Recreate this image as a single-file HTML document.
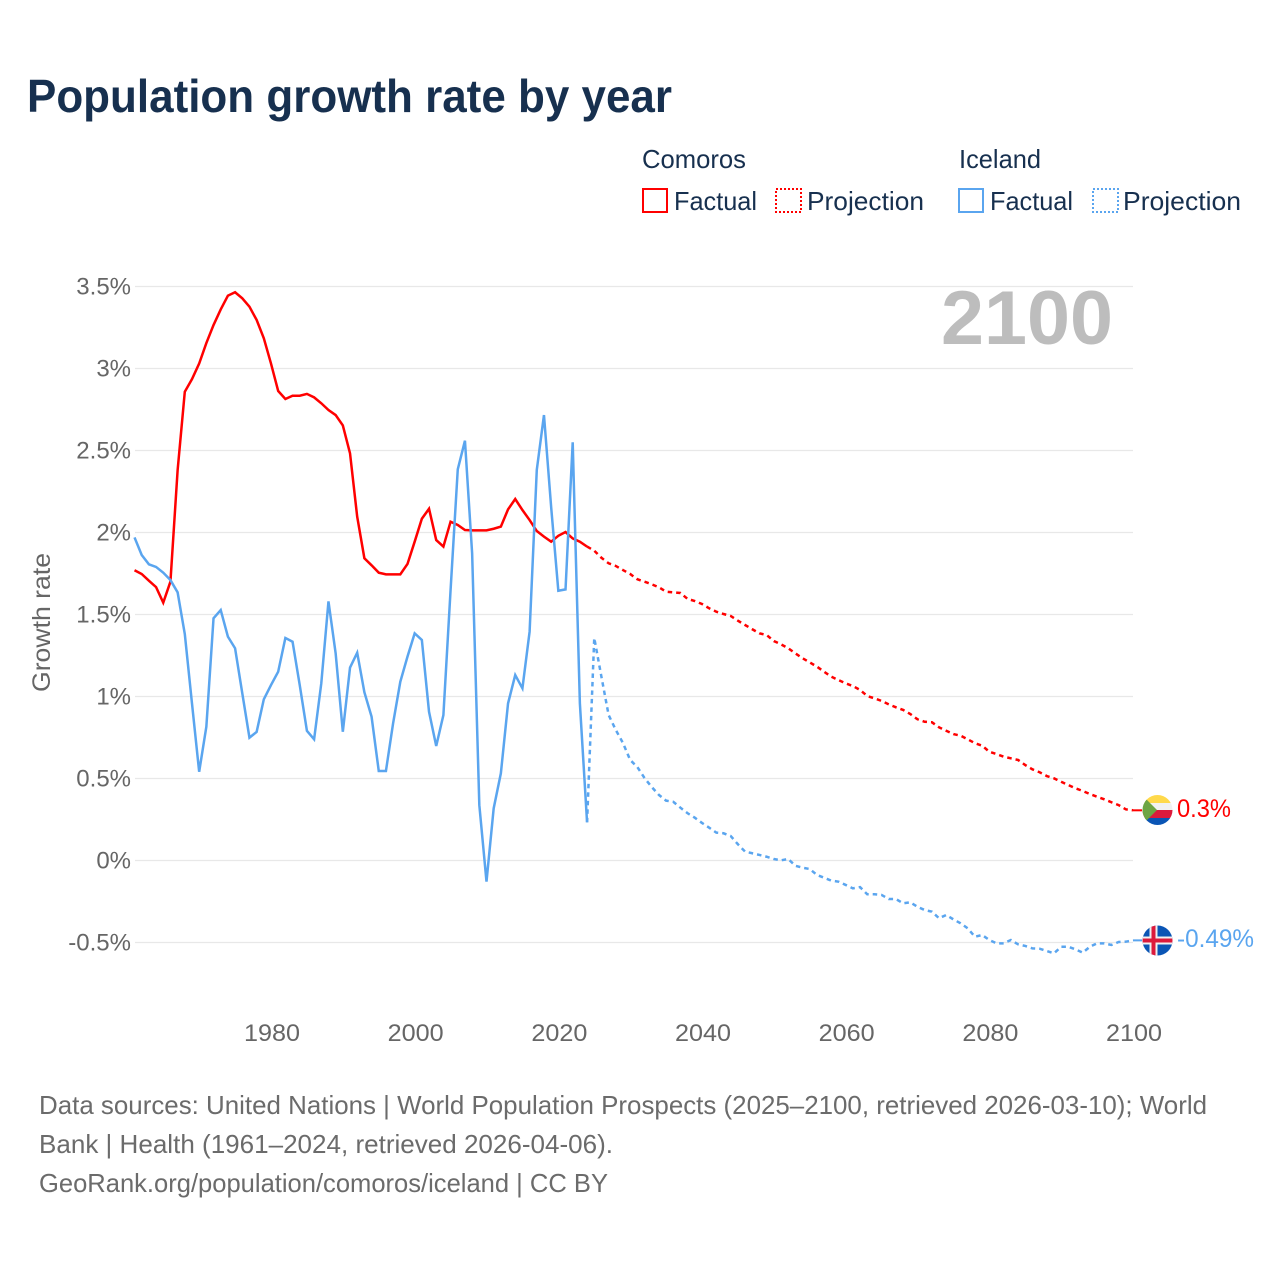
<!DOCTYPE html>
<html lang="en">
<head>
<meta charset="utf-8">
<title>Population growth rate by year</title>
<style>
  html, body { margin: 0; padding: 0; background: #fff; }
  svg { display: block; font-family: "Liberation Sans", sans-serif; }
</style>
</head>
<body>
<svg id="chart" xmlns="http://www.w3.org/2000/svg" width="1280" height="1280" viewBox="0 0 1280 1280">
  <rect x="0" y="0" width="1280" height="1280" fill="#ffffff"/>
  <text x="27" y="112" font-size="46" font-weight="700" fill="#17304f" textLength="645" lengthAdjust="spacingAndGlyphs">Population growth rate by year</text>

  <g font-size="26" fill="#17304f">
    <text x="642" y="168" textLength="104" lengthAdjust="spacingAndGlyphs">Comoros</text>
    <text x="959" y="168" textLength="82" lengthAdjust="spacingAndGlyphs">Iceland</text>
    <g>
      <rect x="643" y="189" width="24" height="23" fill="none" stroke="#ff0000" stroke-width="2"/>
      <text x="674" y="210" textLength="83" lengthAdjust="spacingAndGlyphs">Factual</text>
    </g>
    <g>
      <rect x="776" y="189" width="25" height="23" fill="none" stroke="#ff0000" stroke-width="2" stroke-dasharray="2 2"/>
      <text x="807" y="210" textLength="117" lengthAdjust="spacingAndGlyphs">Projection</text>
    </g>
    <g>
      <rect x="959" y="189" width="24" height="23" fill="none" stroke="#5aa5ef" stroke-width="2"/>
      <text x="990" y="210" textLength="83" lengthAdjust="spacingAndGlyphs">Factual</text>
    </g>
    <g>
      <rect x="1093" y="189" width="25" height="23" fill="none" stroke="#5aa5ef" stroke-width="2" stroke-dasharray="2 2"/>
      <text x="1123" y="210" textLength="118" lengthAdjust="spacingAndGlyphs">Projection</text>
    </g>
  </g>

  <g id="grid"></g>
  <g id="yTicks" font-size="24" fill="#666666" text-anchor="end"></g>
  <g id="xTicks" font-size="24" fill="#666666" text-anchor="middle"></g>
  <text transform="translate(50,692) rotate(-90)" font-size="25" fill="#666666" textLength="139" lengthAdjust="spacingAndGlyphs">Growth rate</text>
  <text x="941" y="344" font-size="76" font-weight="700" fill="#bdbdbd" textLength="172" lengthAdjust="spacingAndGlyphs">2100</text>
  <g id="series"></g>

  <g id="flagComoros">
    <clipPath id="clipComoros"><circle cx="1157.5" cy="810" r="15"/></clipPath>
    <g clip-path="url(#clipComoros)">
      <rect x="1142" y="795" width="31" height="8" fill="#ffd94a"/>
      <rect x="1142" y="803" width="31" height="7.5" fill="#f1f1f1"/>
      <rect x="1142" y="810" width="31" height="8" fill="#dc1a3c"/>
      <rect x="1142" y="818" width="31" height="8" fill="#0a55b5"/>
      <polygon points="1142,795 1157,810 1142,825" fill="#6da544"/>
      <path d="M1151 804 a6 6 0 1 0 0 12 a5 5 0 1 1 0 -12z" fill="#f0f0f0"/>
    </g>
  </g>
  <g id="flagIceland">
    <clipPath id="clipIceland"><circle cx="1157.5" cy="940.5" r="15"/></clipPath>
    <g clip-path="url(#clipIceland)">
      <rect x="1142" y="925" width="31" height="31" fill="#0a55b5"/>
      <rect x="1149.5" y="925" width="8" height="31" fill="#f0f0f0"/>
      <rect x="1142" y="936.5" width="31" height="8" fill="#f0f0f0"/>
      <rect x="1151.5" y="925" width="4" height="31" fill="#dc1a3c"/>
      <rect x="1142" y="938.5" width="31" height="4" fill="#dc1a3c"/>
    </g>
  </g>
  <text x="1177" y="817" font-size="25" fill="#ff0000" textLength="54" lengthAdjust="spacingAndGlyphs">0.3%</text>
  <text x="1177" y="947" font-size="25" fill="#5aa5ef" textLength="77" lengthAdjust="spacingAndGlyphs">-0.49%</text>

  <g font-size="26" fill="#6b6b6b">
    <text x="39" y="1114" textLength="1168" lengthAdjust="spacingAndGlyphs">Data sources: United Nations | World Population Prospects (2025–2100, retrieved 2026-03-10); World</text>
    <text x="39" y="1153" textLength="574" lengthAdjust="spacingAndGlyphs">Bank | Health (1961–2024, retrieved 2026-04-06).</text>
    <text x="39" y="1192" textLength="569" lengthAdjust="spacingAndGlyphs">GeoRank.org/population/comoros/iceland | CC BY</text>
  </g>
</svg>
<script>
const factualStartYear = 1961;
const projectionStartYear = 2024;
const xTickYears = [1980, 2000, 2020, 2040, 2060, 2080, 2100];
const yTickValues = [-0.5, 0, 0.5, 1, 1.5, 2, 2.5, 3, 3.5];
const yTickLabels = ["-0.5%", "0%", "0.5%", "1%", "1.5%", "2%", "2.5%", "3%", "3.5%"];

const comorosFactual = [1.77,1.747,1.706,1.667,1.572,1.70,2.38,2.858,2.935,3.03,3.155,3.265,3.36,3.444,3.465,3.428,3.377,3.296,3.184,3.03,2.863,2.814,2.834,2.834,2.845,2.824,2.788,2.747,2.716,2.653,2.483,2.096,1.843,1.80,1.755,1.745,1.745,1.745,1.808,1.944,2.084,2.145,1.954,1.914,2.066,2.046,2.015,2.013,2.013,2.013,2.023,2.036,2.141,2.204,2.137,2.076,2.009,1.975,1.944,1.98,2.003,1.964,1.944,1.914];
const comorosProjection = [1.914,1.889,1.846,1.812,1.796,1.771,1.747,1.715,1.70,1.684,1.666,1.639,1.635,1.631,1.595,1.582,1.564,1.538,1.517,1.503,1.491,1.462,1.436,1.41,1.385,1.375,1.338,1.318,1.294,1.263,1.233,1.208,1.182,1.151,1.121,1.10,1.08,1.064,1.04,1.003,0.989,0.973,0.952,0.934,0.918,0.893,0.861,0.846,0.843,0.812,0.791,0.771,0.761,0.739,0.715,0.70,0.663,0.649,0.633,0.623,0.613,0.582,0.556,0.538,0.515,0.501,0.48,0.46,0.44,0.424,0.405,0.389,0.373,0.355,0.338,0.312,0.306];
const icelandFactual = [1.97,1.863,1.806,1.79,1.755,1.71,1.635,1.381,0.958,0.541,0.816,1.477,1.527,1.365,1.294,1.02,0.749,0.784,0.983,1.07,1.151,1.357,1.334,1.07,0.791,0.739,1.08,1.58,1.263,0.785,1.176,1.267,1.026,0.877,0.546,0.546,0.837,1.09,1.243,1.385,1.345,0.907,0.698,0.887,1.65,2.385,2.56,1.873,0.338,-0.129,0.318,0.532,0.958,1.131,1.05,1.395,2.381,2.716,2.155,1.645,1.653,2.55,0.958,0.233];
const icelandProjection = [0.233,1.357,1.12,0.887,0.796,0.716,0.613,0.57,0.503,0.448,0.40,0.365,0.358,0.322,0.288,0.261,0.229,0.20,0.17,0.166,0.149,0.099,0.054,0.044,0.034,0.023,0.009,0.001,0.009,-0.032,-0.044,-0.052,-0.088,-0.105,-0.123,-0.129,-0.149,-0.17,-0.162,-0.206,-0.206,-0.21,-0.235,-0.235,-0.261,-0.255,-0.282,-0.302,-0.312,-0.352,-0.332,-0.359,-0.383,-0.414,-0.465,-0.454,-0.485,-0.505,-0.505,-0.485,-0.511,-0.521,-0.536,-0.538,-0.552,-0.566,-0.526,-0.526,-0.542,-0.562,-0.526,-0.505,-0.505,-0.515,-0.497,-0.495,-0.487];

const SVG_NS = "http://www.w3.org/2000/svg";
const X_PER_YEAR = (1134 - 272) / (2100 - 1980);
const Y_PER_UNIT = (860.5 - 286.5) / 3.5;
function xScale(year) { return 272 + (year - 1980) * X_PER_YEAR; }
function markX(year) { return xScale(year) - 1; }
function yScale(value) { return 860.5 - value * Y_PER_UNIT; }

const gridGroup = document.getElementById("grid");
const yGroup = document.getElementById("yTicks");
const xGroup = document.getElementById("xTicks");
const seriesGroup = document.getElementById("series");

yTickValues.forEach(function (value, i) {
  const line = document.createElementNS(SVG_NS, "line");
  
  
  line.setAttribute("x1", 135);
  line.setAttribute("x2", 1133);
  line.setAttribute("y1", yScale(value));
  line.setAttribute("y2", yScale(value));
  line.setAttribute("stroke", "#e8e8e8");
  line.setAttribute("stroke-width", "1.3");
  gridGroup.appendChild(line);

  const label = document.createElementNS(SVG_NS, "text");
  
  
  label.setAttribute("x", 131);
  label.setAttribute("y", yScale(value) + 8);
  label.textContent = yTickLabels[i];
  yGroup.appendChild(label);
});

xTickYears.forEach(function (year) {
  const label = document.createElementNS(SVG_NS, "text");
  
  
  label.setAttribute("x", xScale(year));
  label.setAttribute("y", 1041);
  label.setAttribute("textLength", 56);
  label.setAttribute("lengthAdjust", "spacingAndGlyphs");
  label.textContent = String(year);
  xGroup.appendChild(label);
});

function pointsFor(values, startYear) {
  return values.map(function (value, i) {
    return markX(startYear + i).toFixed(2) + "," + yScale(value).toFixed(2);
  }).join(" ");
}

function drawSeries(values, startYear, color, dashed, name) {
  const line = document.createElementNS(SVG_NS, "polyline");
  
  
  line.setAttribute("points", pointsFor(values, startYear));
  line.setAttribute("fill", "none");
  line.setAttribute("stroke", color);
  line.setAttribute("stroke-width", "2.5");
  line.setAttribute("stroke-linejoin", "miter");
  if (dashed) line.setAttribute("stroke-dasharray", "4.5 4");
  seriesGroup.appendChild(line);
}

function drawConnector(values, startYear, color, name) {
  const lastValue = values[values.length - 1];
  const lastX = markX(startYear + values.length - 1);
  const line = document.createElementNS(SVG_NS, "line");
  
  
  line.setAttribute("x1", lastX);
  line.setAttribute("x2", lastX + 9);
  line.setAttribute("y1", yScale(lastValue));
  line.setAttribute("y2", yScale(lastValue));
  line.setAttribute("stroke", color);
  line.setAttribute("stroke-width", "2");
  seriesGroup.appendChild(line);
}

drawSeries(comorosFactual, factualStartYear, "#ff0000", false, "comoros-factual-line");
drawSeries(icelandFactual, factualStartYear, "#5aa5ef", false, "iceland-factual-line");
drawSeries(comorosProjection, projectionStartYear, "#ff0000", true, "comoros-projection-line");
drawSeries(icelandProjection, projectionStartYear, "#5aa5ef", true, "iceland-projection-line");
drawConnector(comorosProjection, projectionStartYear, "#ff0000", "comoros-flag-connector");
drawConnector(icelandProjection, projectionStartYear, "#5aa5ef", "iceland-flag-connector");
</script>
</body>
</html>
